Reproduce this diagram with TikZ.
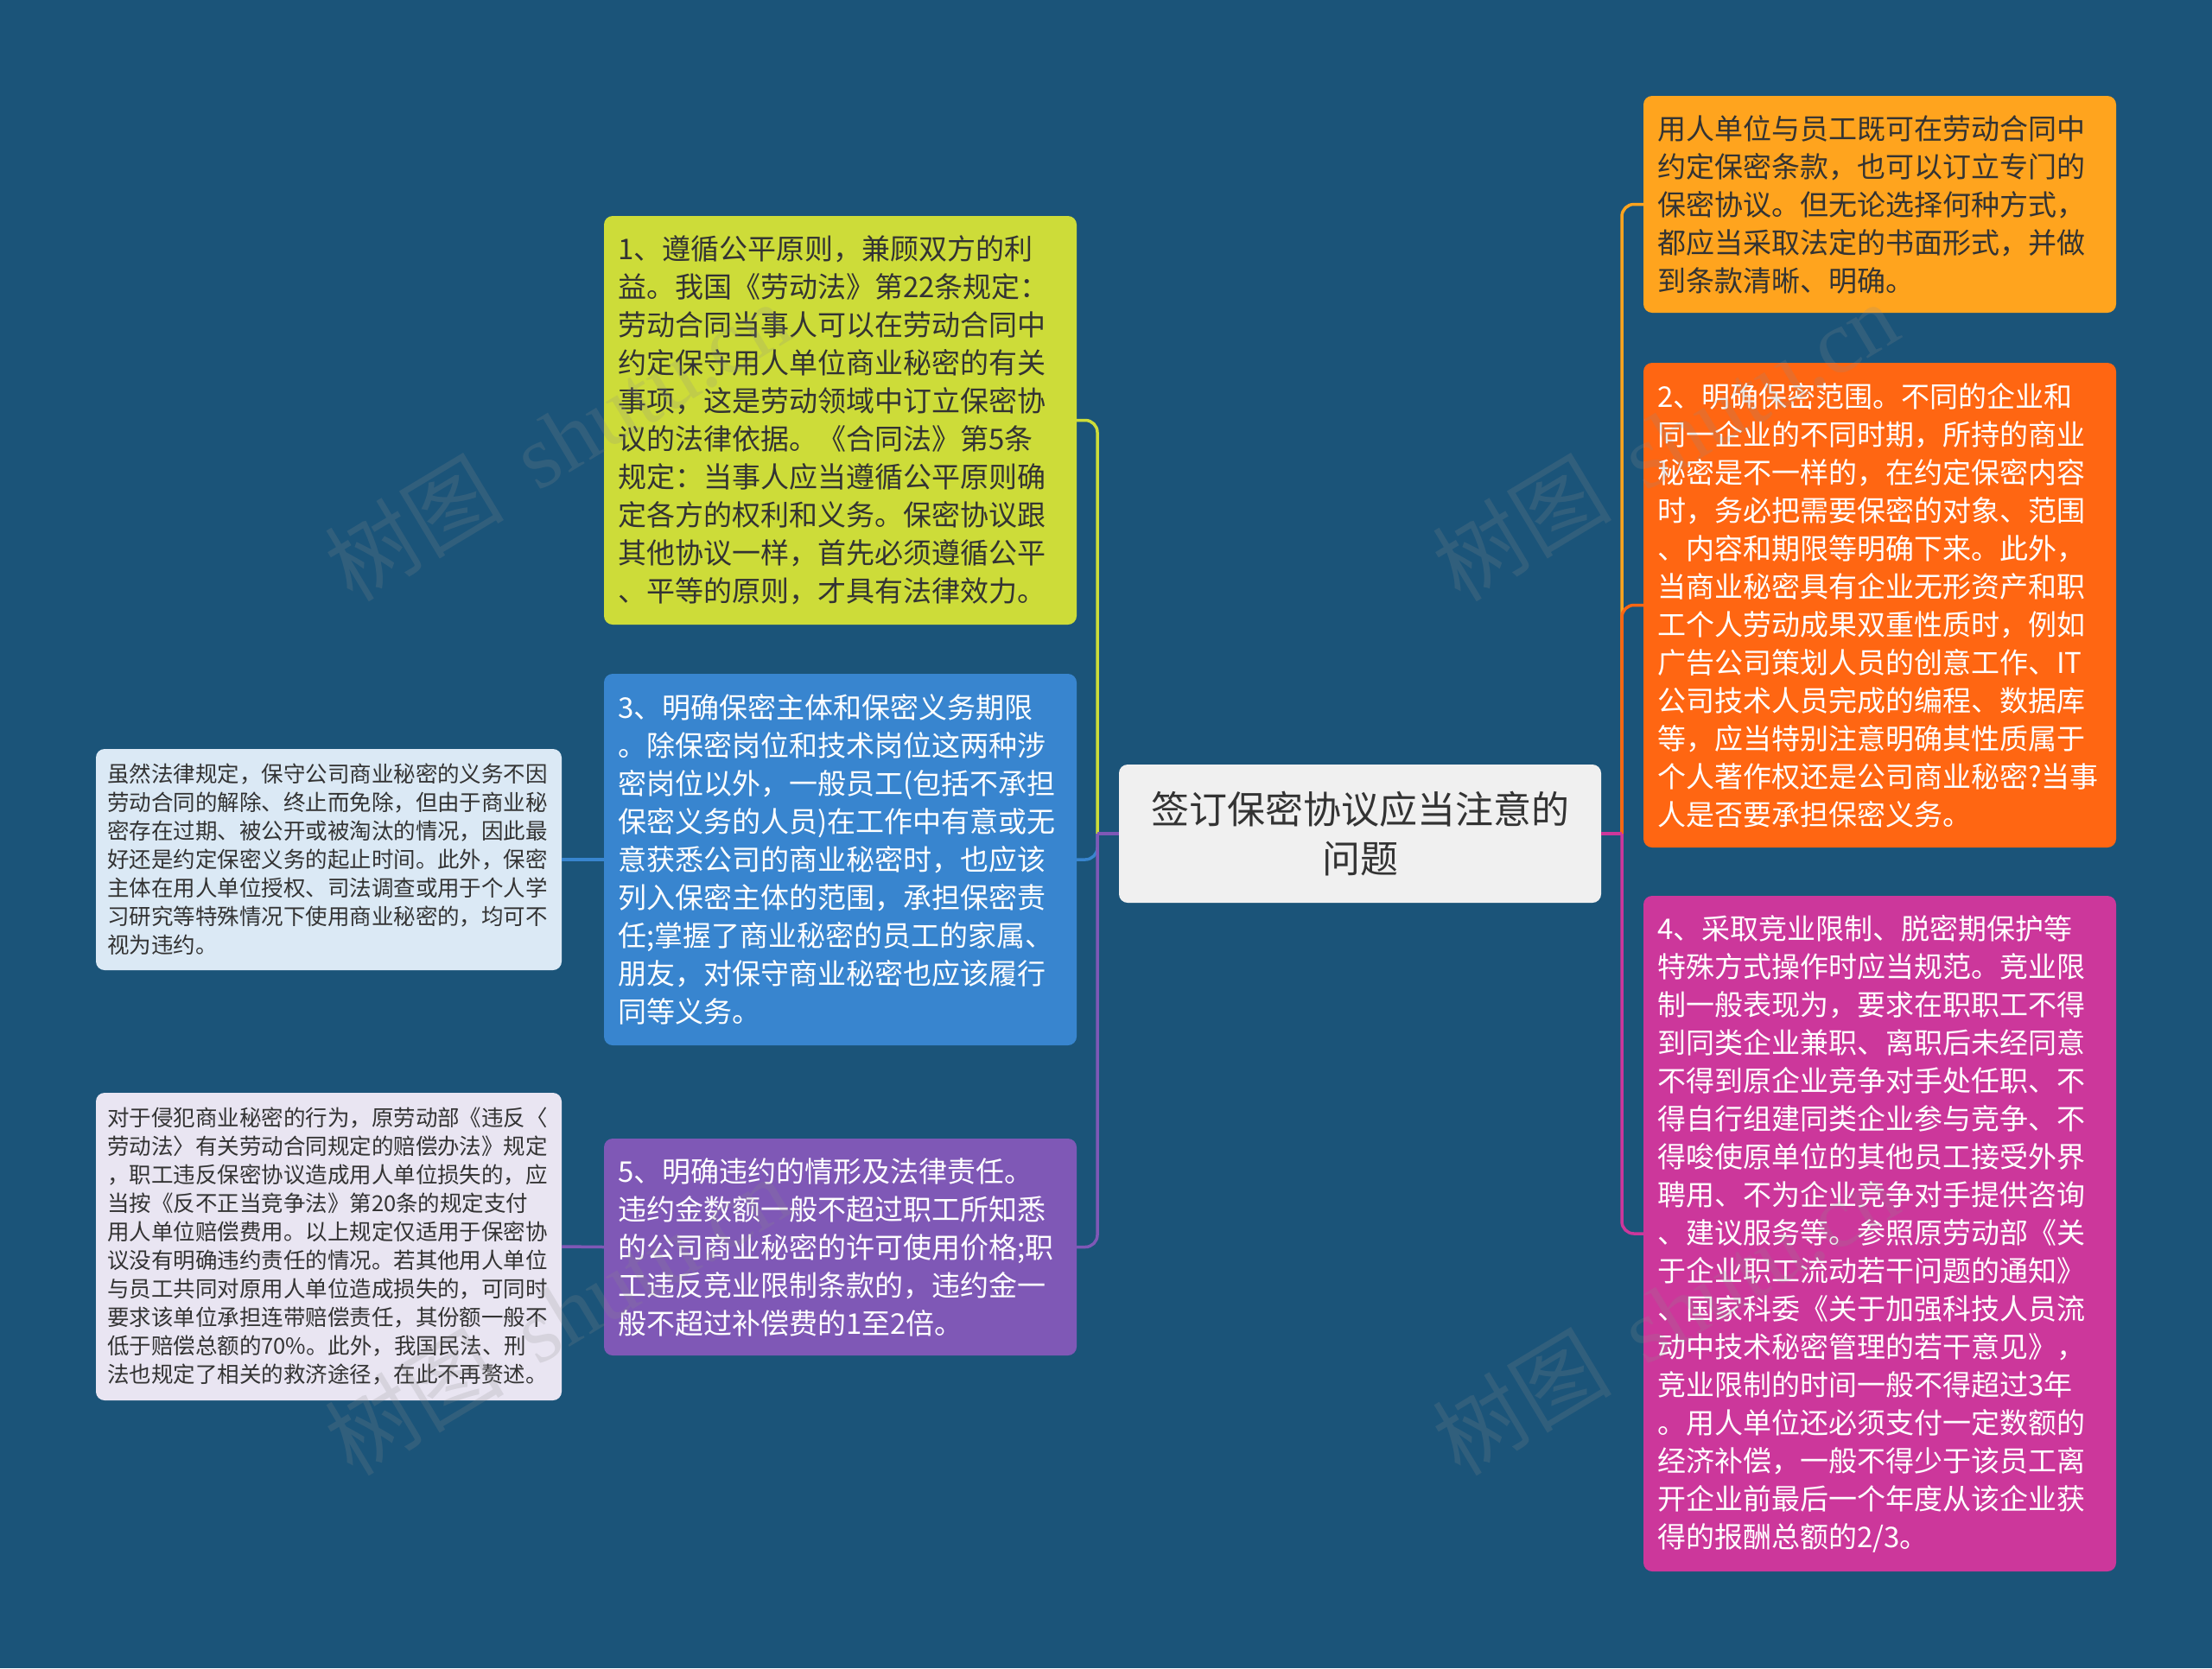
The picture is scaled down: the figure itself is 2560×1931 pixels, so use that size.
\documentclass[tikz,border=0pt]{standalone}
\usepackage{fontspec}
\setmainfont{Noto Sans CJK SC}
\newfontfamily\wmlatin{Liberation Serif}
\definecolor{bgc}{RGB}{27,84,121}
\definecolor{cyl}{RGB}{205,220,57}
\definecolor{cbl}{RGB}{56,133,207}
\definecolor{cpu}{RGB}{127,88,182}
\definecolor{cleafb}{RGB}{219,233,245}
\definecolor{cleafp}{RGB}{233,229,242}
\definecolor{cor1}{RGB}{255,164,30}
\definecolor{cor2}{RGB}{255,102,18}
\definecolor{cmg}{RGB}{204,55,155}
\definecolor{ccen}{RGB}{240,240,240}
\definecolor{tdark}{RGB}{51,51,51}
\definecolor{wmc}{RGB}{140,140,140}
\tikzset{
  x=1pt, y=-1pt,
  mainbox/.style={rounded corners=10pt, inner xsep=16pt, inner ysep=0pt, align=left,
    text width=515pt, font=\fontsize{33}{44}\selectfont},
  leafbox/.style={rounded corners=10pt, inner xsep=13pt, inner ysep=0pt, align=left,
    text width=513pt, font=\fontsize{25.5}{33}\selectfont, text=tdark},
  cenbox/.style={rounded corners=10pt, fill=ccen, text=tdark, align=center,
    minimum width=558pt, minimum height=160pt, inner sep=0pt,
    font=\fontsize{44}{57}\selectfont},
  conn/.style={line width=3.5pt},
  wm/.style={text=wmc, opacity=0.2, rotate=31, font=\fontsize{104}{110}\selectfont}
}
\begin{document}
\begin{tikzpicture}
\useasboundingbox (0,0) rectangle (2560,1931);
\fill[bgc] (0,0) rectangle (2560,1931);

\coordinate (tl) at (1270,965);
\coordinate (tr) at (1877,965);

% center
\node[cenbox] (c) at (1574,965) {签订保密协议应当注意的\\问题};

% left children
\node[mainbox, fill=cyl, text=tdark, minimum height=473pt] (n1) at (972.5,486.5) {1、遵循公平原则，兼顾双方的利\\益。我国《劳动法》第22条规定：\\劳动合同当事人可以在劳动合同中\\约定保守用人单位商业秘密的有关\\事项，这是劳动领域中订立保密协\\议的法律依据。《合同法》第5条\\规定：当事人应当遵循公平原则确\\定各方的权利和义务。保密协议跟\\其他协议一样，首先必须遵循公平\\、平等的原则，才具有法律效力。};

\node[mainbox, fill=cbl, text=white, minimum height=430pt] (n3) at (972.5,995) {3、明确保密主体和保密义务期限\\。除保密岗位和技术岗位这两种涉\\密岗位以外，一般员工(包括不承担\\保密义务的人员)在工作中有意或无\\意获悉公司的商业秘密时，也应该\\列入保密主体的范围，承担保密责\\任;掌握了商业秘密的员工的家属、\\朋友，对保守商业秘密也应该履行\\同等义务。};

\node[mainbox, fill=cpu, text=white, minimum height=251pt] (n5) at (972.5,1443.5) {5、明确违约的情形及法律责任。\\违约金数额一般不超过职工所知悉\\的公司商业秘密的许可使用价格;职\\工违反竞业限制条款的，违约金一\\般不超过补偿费的1至2倍。};

% leaves
\node[leafbox, fill=cleafb, minimum height=256pt] (l3) at (380.5,995) {虽然法律规定，保守公司商业秘密的义务不因\\劳动合同的解除、终止而免除，但由于商业秘\\密存在过期、被公开或被淘汰的情况，因此最\\好还是约定保密义务的起止时间。此外，保密\\主体在用人单位授权、司法调查或用于个人学\\习研究等特殊情况下使用商业秘密的，均可不\\视为违约。};

\node[leafbox, fill=cleafp, minimum height=356pt] (l5) at (380.5,1443) {对于侵犯商业秘密的行为，原劳动部《违反〈\\劳动法〉有关劳动合同规定的赔偿办法》规定\\，职工违反保密协议造成用人单位损失的，应\\当按《反不正当竞争法》第20条的规定支付\\用人单位赔偿费用。以上规定仅适用于保密协\\议没有明确违约责任的情况。若其他用人单位\\与员工共同对原用人单位造成损失的，可同时\\要求该单位承担连带赔偿责任，其份额一般不\\低于赔偿总额的70\%。此外，我国民法、刑\\法也规定了相关的救济途径，在此不再赘述。};

% right children
\node[mainbox, fill=cor1, text=tdark, minimum height=251pt] (r1) at (2175.5,236.5) {用人单位与员工既可在劳动合同中\\约定保密条款，也可以订立专门的\\保密协议。但无论选择何种方式，\\都应当采取法定的书面形式，并做\\到条款清晰、明确。};

\node[mainbox, fill=cor2, text=white, minimum height=561pt] (r2) at (2175.5,700.5) {2、明确保密范围。不同的企业和\\同一企业的不同时期，所持的商业\\秘密是不一样的，在约定保密内容\\时，务必把需要保密的对象、范围\\、内容和期限等明确下来。此外，\\当商业秘密具有企业无形资产和职\\工个人劳动成果双重性质时，例如\\广告公司策划人员的创意工作、IT\\公司技术人员完成的编程、数据库\\等，应当特别注意明确其性质属于\\个人著作权还是公司商业秘密?当事\\人是否要承担保密义务。};

\node[mainbox, fill=cmg, text=white, minimum height=782pt] (r3) at (2175.5,1428) {4、采取竞业限制、脱密期保护等\\特殊方式操作时应当规范。竞业限\\制一般表现为，要求在职职工不得\\到同类企业兼职、离职后未经同意\\不得到原企业竞争对手处任职、不\\得自行组建同类企业参与竞争、不\\得唆使原单位的其他员工接受外界\\聘用、不为企业竞争对手提供咨询\\、建议服务等。参照原劳动部《关\\于企业职工流动若干问题的通知》\\、国家科委《关于加强科技人员流\\动中技术秘密管理的若干意见》，\\竞业限制的时间一般不得超过3年\\。用人单位还必须支付一定数额的\\经济补偿，一般不得少于该员工离\\开企业前最后一个年度从该企业获\\得的报酬总额的2/3。};

% connectors left
\draw[conn, cyl] (c.west) -- (tl);
\draw[conn, cyl, rounded corners=14pt] (tl) |- (n1.east);
\draw[conn, cbl] (c.west) -- (tl);
\draw[conn, cbl, rounded corners=14pt] (tl) |- (n3.east);
\draw[conn, cpu] (c.west) -- (tl);
\draw[conn, cpu, rounded corners=14pt] (tl) |- (n5.east);
% connectors right
\draw[conn, cor1] (c.east) -- (tr);
\draw[conn, cor1, rounded corners=14pt] (tr) |- (r1.west);
\draw[conn, cor2] (c.east) -- (tr);
\draw[conn, cor2, rounded corners=14pt] (tr) |- (r2.west);
\draw[conn, cmg] (c.east) -- (tr);
\draw[conn, cmg, rounded corners=14pt] (tr) |- (r3.west);
% leaf connectors
\draw[conn, cbl] (n3.west) -- (l3.east);
\draw[conn, cpu] (n5.west) -- (l5.east);

% watermarks
\node[wm] (w1) at (645,510) {树图\hspace{0.4em}{\wmlatin shutu.cn}};
\node[wm] (w2) at (1927,510) {树图\hspace{0.4em}{\wmlatin shutu.cn}};
\node[wm] (w3) at (645,1522) {树图\hspace{0.4em}{\wmlatin shutu.cn}};
\node[wm] (w4) at (1927,1522) {树图\hspace{0.4em}{\wmlatin shutu.cn}};
\end{tikzpicture}
\end{document}
